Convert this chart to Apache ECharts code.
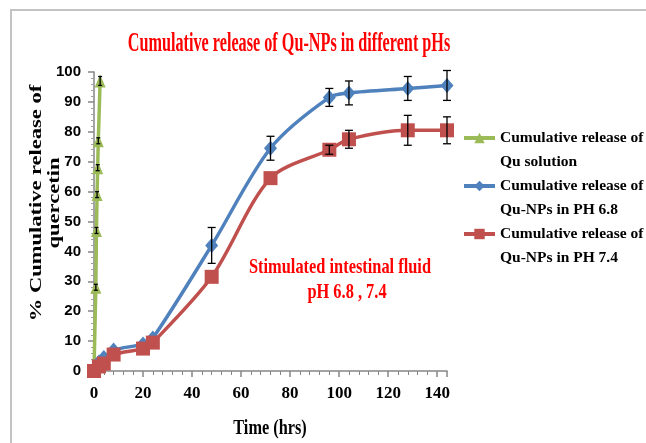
<!DOCTYPE html>
<html>
<head>
<meta charset="utf-8">
<script src="https://cdn.jsdelivr.net/npm/echarts@6/dist/echarts.min.js"></script>
<style>
  html, body { margin: 0; padding: 0; background: #fff; }
  #chart { width: 646px; height: 443px; }
</style>
</head>
<body>
<div id="chart"></div>
<script>
// release data (time in hrs, % released)
const quTimes = [0, 0.75, 1, 1.25, 1.5, 1.75, 2.5];
const quValues = [0, 28, 47, 59, 68, 77, 97];
const quErr = [0, 1, 1, 1, 1, 1, 1.5];

const npTimes = [0, 2, 4, 8, 20, 24, 48, 72, 96, 104, 128, 144];
const ph68Values = [0.5, 3, 4.5, 7, 9, 11, 42, 74.5, 91.5, 93, 94.5, 95.5];
const ph68Err = [0, 0, 0, 0, 0, 0, 6, 4, 3, 4, 4, 5];
const ph74Values = [0, 1.5, 2.5, 5.5, 7.5, 9.5, 31.5, 64.5, 74, 77.5, 80.5, 80.5];
const ph74Err = [0, 0, 0, 0, 0, 0, 0, 0, 1.5, 3, 5, 4.5];

const seriesNames = [
  "Cumulative release of Qu solution",
  "Cumulative release of Qu-NPs in PH 6.8",
  "Cumulative release of Qu-NPs in PH 7.4",
];
const xTicks = [0, 20, 40, 60, 80, 100, 120, 140];

const serif = "'Liberation Serif', 'Times New Roman', serif";

function pairs(xs, ys) {
  return xs.map((x, i) => [x, ys[i]]);
}

// vertical error bars with caps
function errorBars(xs, ys, errs, z, cap) {
  return {
    type: "custom",
    silent: true,
    z: z,
    encode: { x: 0, y: [1, 2] },
    data: xs.map((x, i) => [x, ys[i] - errs[i], ys[i] + errs[i], errs[i]]),
    renderItem: (params, api) => {
      if (!api.value(3)) return null;
      const lo = api.coord([api.value(0), api.value(1)]);
      const hi = api.coord([api.value(0), api.value(2)]);
      const w = cap;
      const st = { stroke: "#000", lineWidth: 1.3 };
      return {
        type: "group",
        children: [
          { type: "line", shape: { x1: lo[0], y1: lo[1], x2: hi[0], y2: hi[1] }, style: st },
          { type: "line", shape: { x1: lo[0] - w, y1: lo[1], x2: lo[0] + w, y2: lo[1] }, style: st },
          { type: "line", shape: { x1: hi[0] - w, y1: hi[1], x2: hi[0] + w, y2: hi[1] }, style: st },
        ],
      };
    },
  };
}

const chart = echarts.init(document.getElementById("chart"), null, { renderer: "canvas" });

const opt = {
  animation: false,
  backgroundColor: "#fff",
  legend: {
    orient: "vertical",
    left: 462,
    top: 102,
    padding: 0,
    itemWidth: 31,
    itemHeight: 13,
    itemGap: -24,
    data: seriesNames,
    lineStyle: { width: 4 },
    // blank first line so the icon sits beside the first text line
    formatter: (name) => "\n" + name.replace("release of ", "release of\n"),
    textStyle: {
      fontFamily: serif,
      fontWeight: "bold",
      fontSize: 15.5,
      color: "#000",
      lineHeight: 24,
    },
  },
  grid: {
    left: 94,
    right: 199,
    top: 72,
    bottom: 72,
  },
  xAxis: {
    type: "value",
    min: 0,
    max: 144,
    interval: 20,
    axisLine: { lineStyle: { color: "#868686", width: 1.5 } },
    axisTick: { length: 6, lineStyle: { color: "#868686", width: 1.5 } },
    minorTick: { show: true, splitNumber: 5, length: 4, lineStyle: { color: "#868686" } },
    splitLine: { show: false },
    axisLabel: {
      margin: 14,
      fontFamily: serif,
      fontWeight: "bold",
      fontSize: 17,
      color: "#000",
      formatter: (v) => (xTicks.indexOf(v) >= 0 ? String(v) : ""),
    },
  },
  yAxis: {
    type: "value",
    min: 0,
    max: 100,
    interval: 10,
    axisLine: { show: true, lineStyle: { color: "#868686", width: 1.5 } },
    axisTick: { show: true, length: 6, lineStyle: { color: "#868686", width: 1.5 } },
    minorTick: { show: true, splitNumber: 5, length: 3, lineStyle: { color: "#a0a0a0" } },
    splitLine: { show: false },
    axisLabel: {
      margin: 13,
      fontFamily: "'Liberation Sans Narrow', 'Liberation Sans', Arial, sans-serif",
      fontWeight: "bold",
      fontSize: 15,
      color: "#000",
    },
  },
  graphic: [
    // frame
    { type: "line", shape: { x1: 10, y1: 10, x2: 646, y2: 10 }, style: { stroke: "#c3c3c3", lineWidth: 2 } },
    { type: "line", shape: { x1: 11, y1: 10, x2: 11, y2: 443 }, style: { stroke: "#c3c3c3", lineWidth: 2 } },
    {
      type: "text",
      x: 289,
      y: 44,
      scaleX: 0.6,
      style: {
        text: "Cumulative release of Qu-NPs in different pHs",
        font: "bold 27px " + serif,
        fill: "#ff0000",
        align: "center",
        verticalAlign: "middle",
      },
    },
    {
      type: "text",
      x: 340,
      y: 268,
      scaleX: 0.78,
      style: {
        text: "Stimulated intestinal fluid",
        font: "bold 21px " + serif,
        fill: "#ff0000",
        align: "center",
        verticalAlign: "middle",
      },
    },
    {
      type: "text",
      x: 347,
      y: 293,
      scaleX: 0.78,
      style: {
        text: "pH 6.8 , 7.4",
        font: "bold 21px " + serif,
        fill: "#ff0000",
        align: "center",
        verticalAlign: "middle",
      },
    },
    {
      type: "text",
      x: 46,
      y: 203,
      rotation: Math.PI / 2,
      scaleY: 0.72,
      style: {
        text: "% Cumulative release of\nquercetin",
        font: "bold 22.5px " + serif,
        lineHeight: 25,
        fill: "#000",
        align: "center",
        verticalAlign: "middle",
      },
    },
    {
      type: "text",
      x: 270,
      y: 428,
      scaleX: 0.74,
      style: {
        text: "Time (hrs)",
        font: "bold 22px " + serif,
        fill: "#000",
        align: "center",
        verticalAlign: "middle",
      },
    },
  ],
  series: [
    {
      name: seriesNames[0],
      type: "line",
      data: pairs(quTimes, quValues),
      symbol: "triangle",
      symbolSize: [11, 13],
      lineStyle: { color: "#9bbb59", width: 3.5 },
      itemStyle: { color: "#9bbb59" },
      z: 2,
    },
    errorBars(quTimes, quValues, quErr, 3, 2),
    {
      name: seriesNames[1],
      type: "line",
      smooth: 0.3,
      data: pairs(npTimes, ph68Values),
      symbol: "diamond",
      symbolSize: [13, 15],
      lineStyle: { color: "#4f81bd", width: 3.5 },
      itemStyle: { color: "#4f81bd" },
      z: 4,
    },
    errorBars(npTimes, ph68Values, ph68Err, 5, 4),
    {
      name: seriesNames[2],
      type: "line",
      smooth: 0.3,
      data: pairs(npTimes, ph74Values),
      symbol: "rect",
      symbolSize: 14,
      lineStyle: { color: "#c0504d", width: 3.5 },
      itemStyle: { color: "#c0504d" },
      z: 6,
    },
    errorBars(npTimes, ph74Values, ph74Err, 7, 4),
  ],
};

chart.setOption(opt);
</script>
</body>
</html>
